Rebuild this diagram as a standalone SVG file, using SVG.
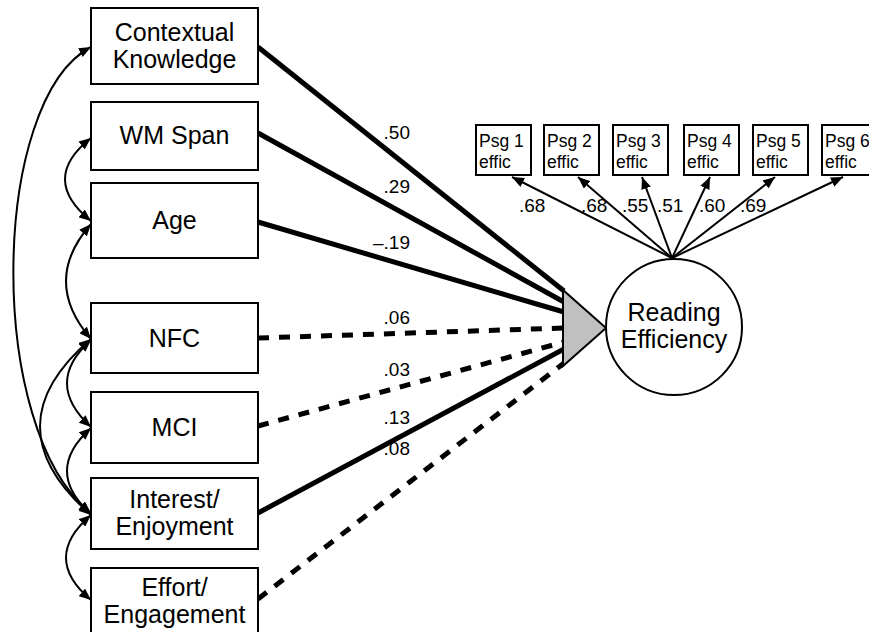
<svg xmlns="http://www.w3.org/2000/svg" width="869" height="632" viewBox="0 0 869 632">
<style>
.box{fill:#fff;stroke:#000;stroke-width:2}
.t{font-family:"Liberation Sans",Arial,sans-serif;font-size:25px;fill:#000;text-anchor:middle}
.ps{font-family:"Liberation Sans",Arial,sans-serif;font-size:17.5px;fill:#000}
.lab{font-family:"Liberation Sans",Arial,sans-serif;font-size:19px;fill:#000}
.solid{stroke:#000;stroke-width:5;fill:none}
.dash{stroke:#000;stroke-width:5;fill:none;stroke-dasharray:11 10}
.cov{stroke:#000;stroke-width:2;fill:none;marker-start:url(#ah);marker-end:url(#ah)}
.load{stroke:#000;stroke-width:2;fill:none;marker-end:url(#ah)}
</style>
<defs>
<marker id="ah" markerUnits="userSpaceOnUse" markerWidth="12" markerHeight="10" refX="12" refY="5" orient="auto-start-reverse">
<path d="M0,0 L12,5 L0,10 z" fill="#000"/>
</marker>
</defs>
<g id="connectors">
<line class="solid" x1="258" y1="47" x2="564" y2="291"/>
<line class="solid" x1="258" y1="133" x2="564" y2="302"/>
<line class="solid" x1="258" y1="222" x2="564" y2="312"/>
<line class="dash" x1="258" y1="338" x2="564" y2="328"/>
<line class="dash" x1="258" y1="426" x2="564" y2="342"/>
<line class="solid" x1="258" y1="513" x2="564" y2="349"/>
<line class="dash" x1="258" y1="599" x2="564" y2="363"/>
<path class="cov" d="M91,47 C-10,100 -15,430 91,513"/>
<path class="cov" d="M91,138 Q39,179 91,221"/>
<path class="cov" d="M91,224 Q41,281 91,339"/>
<path class="cov" d="M91,339 Q-11,426 91,515"/>
<path class="cov" d="M91,340 Q43,383 91,427"/>
<path class="cov" d="M91,428 Q43,471 91,514"/>
<path class="cov" d="M91,515 Q41,558 91,600"/>
<line class="load" x1="672" y1="258" x2="512" y2="177"/>
<line class="load" x1="672" y1="258" x2="578" y2="177"/>
<line class="load" x1="672" y1="258" x2="642" y2="177"/>
<line class="load" x1="672" y1="258" x2="710" y2="177"/>
<line class="load" x1="672" y1="258" x2="775" y2="177"/>
<line class="load" x1="672" y1="258" x2="843" y2="177"/>
<text class="lab" x="410" y="139" text-anchor="end">.50</text>
<text class="lab" x="410" y="193" text-anchor="end">.29</text>
<text class="lab" x="410" y="249" text-anchor="end">–.19</text>
<text class="lab" x="410" y="324" text-anchor="end">.06</text>
<text class="lab" x="410" y="376" text-anchor="end">.03</text>
<text class="lab" x="410" y="424" text-anchor="end">.13</text>
<text class="lab" x="410" y="455" text-anchor="end">.08</text>
<text class="lab" x="519" y="212">.68</text>
<text class="lab" x="581" y="212">.68</text>
<text class="lab" x="622" y="212">.55</text>
<text class="lab" x="657" y="212">.51</text>
<text class="lab" x="699" y="212">.60</text>
<text class="lab" x="740" y="212">.69</text>
</g>
<g id="contextual-knowledge"><rect class="box" x="91" y="8" width="167" height="76"/><text class="t" x="174.5" y="41">Contextual</text><text class="t" x="174.5" y="68">Knowledge</text></g>
<g id="wm-span"><rect class="box" x="91" y="102" width="167" height="68"/><text class="t" x="174.5" y="144">WM Span</text></g>
<g id="age"><rect class="box" x="91" y="183" width="167" height="75"/><text class="t" x="174.5" y="229">Age</text></g>
<g id="nfc"><rect class="box" x="91" y="303" width="167" height="70"/><text class="t" x="174.5" y="347">NFC</text></g>
<g id="mci"><rect class="box" x="91" y="392" width="167" height="71"/><text class="t" x="174.5" y="436">MCI</text></g>
<g id="interest-enjoyment"><rect class="box" x="91" y="478" width="167" height="71"/><text class="t" x="174.5" y="508">Interest/</text><text class="t" x="174.5" y="535">Enjoyment</text></g>
<g id="effort-engagement"><rect class="box" x="91" y="568" width="167" height="70"/><text class="t" x="174.5" y="596">Effort/</text><text class="t" x="174.5" y="623">Engagement</text></g>
<g id="triangle"><polygon points="563,290 563,366 606,328" fill="#c0c0c0" stroke="#000" stroke-width="2" stroke-linejoin="miter"/></g>
<g id="reading-efficiency"><circle cx="674" cy="327" r="68" fill="#fff" stroke="#000" stroke-width="2"/><text class="t" x="674" y="321">Reading</text><text class="t" x="674" y="348">Efficiency</text></g>
<g id="psg1"><rect class="box" x="476" y="125" width="55" height="50"/><text class="ps" x="479" y="147">Psg 1</text><text class="ps" x="479" y="168">effic</text></g>
<g id="psg2"><rect class="box" x="544" y="125" width="55" height="50"/><text class="ps" x="547" y="147">Psg 2</text><text class="ps" x="547" y="168">effic</text></g>
<g id="psg3"><rect class="box" x="613" y="125" width="55" height="50"/><text class="ps" x="616" y="147">Psg 3</text><text class="ps" x="616" y="168">effic</text></g>
<g id="psg4"><rect class="box" x="684" y="125" width="55" height="50"/><text class="ps" x="687" y="147">Psg 4</text><text class="ps" x="687" y="168">effic</text></g>
<g id="psg5"><rect class="box" x="753" y="125" width="55" height="50"/><text class="ps" x="756" y="147">Psg 5</text><text class="ps" x="756" y="168">effic</text></g>
<g id="psg6"><rect class="box" x="822" y="125" width="55" height="50"/><text class="ps" x="825" y="147">Psg 6</text><text class="ps" x="825" y="168">effic</text></g>
</svg>
